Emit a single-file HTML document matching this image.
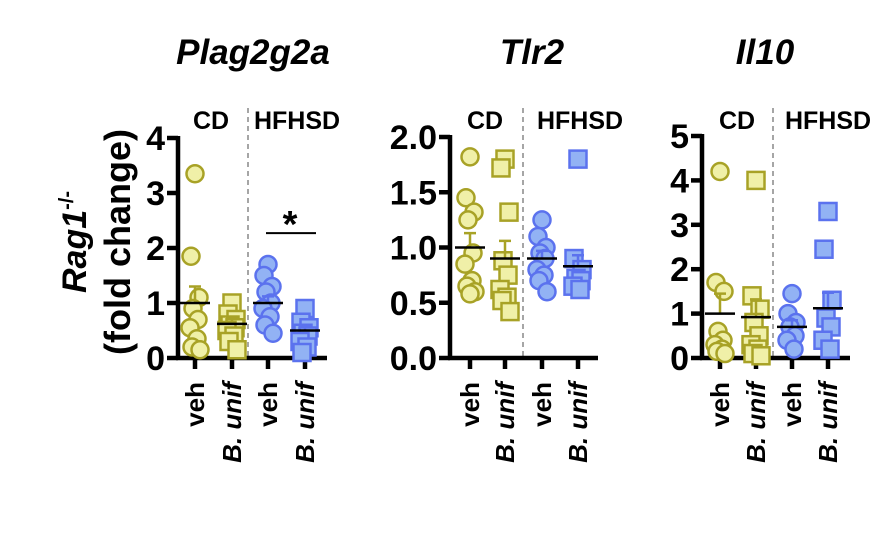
<!DOCTYPE html>
<html><head><meta charset="utf-8"><style>
html,body{margin:0;padding:0;background:#fff}
svg{display:block;font-family:"Liberation Sans",Arial,sans-serif}
</style></head><body>
<svg id="chart" width="876" height="540" viewBox="0 0 876 540" xmlns="http://www.w3.org/2000/svg">
<g font-weight="bold" text-anchor="middle">
<text transform="translate(86,242) rotate(-90)" font-style="italic" font-size="34">Rag1<tspan font-size="20" dy="-13" font-style="normal">-/-</tspan></text>
<text transform="translate(130,242) rotate(-90)" font-size="36">(fold change)</text>
</g>
</svg>
<script>
const panelTitles = ["Plag2g2a","Tlr2","Il10"];
const yMaxes = [4, 2, 5];
const yTicks = [["0","1","2","3","4"],["0.0","0.5","1.0","1.5","2.0"],["0","1","2","3","4","5"]];
const groupLabels = ["veh","B. unif","veh","B. unif"];
const dietLabels = ["CD","HFHSD"];
// Plag2g2a
const p1CdVeh = [3.35,1.85,1.1,0.9,0.7,0.55,0.35,0.2,0.15];
const p1CdBu = [1.0,0.8,0.7,0.6,0.55,0.5,0.4,0.3,0.15];
const p1HfVeh = [1.7,1.5,1.3,1.2,1.0,0.9,0.75,0.6,0.45];
const p1HfBu = [0.9,0.65,0.55,0.45,0.4,0.3,0.2,0.1];
const p1Means = [1.0,0.62,1.0,0.5];
const p1Sems = [0.3,0.1,0.12,0.08];
// Tlr2
const p2CdVeh = [1.82,1.45,1.32,1.25,0.95,0.85,0.7,0.65,0.6,0.58];
const p2CdBu = [1.8,1.72,1.32,0.88,0.75,0.62,0.55,0.52,0.42];
const p2HfVeh = [1.25,1.1,1.0,0.95,0.9,0.8,0.75,0.7,0.6];
const p2HfBu = [1.8,0.9,0.8,0.72,0.7,0.65,0.62];
const p2Means = [1.0,0.9,0.9,0.83];
const p2Sems = [0.13,0.16,0.07,0.1];
// Il10
const p3CdVeh = [4.2,1.7,1.5,0.6,0.4,0.3,0.2,0.15,0.1];
const p3CdBu = [4.0,1.4,1.1,0.8,0.5,0.3,0.2,0.1,0.05];
const p3HfVeh = [1.45,1.0,0.8,0.7,0.5,0.4,0.2];
const p3HfBu = [3.3,2.45,1.3,0.9,0.7,0.4,0.2];
const p3Means = [1.0,0.92,0.7,1.12];
const p3Sems = [0.45,0.4,0.15,0.35];
const sigValue = 2.27;

const panelData = [[p1CdVeh,p1CdBu,p1HfVeh,p1HfBu],[p2CdVeh,p2CdBu,p2HfVeh,p2HfBu],[p3CdVeh,p3CdBu,p3HfVeh,p3HfBu]];
const panelMeans = [p1Means,p2Means,p3Means];
const panelSems = [p1Sems,p2Sems,p3Sems];
const layout = [
 {ax:178, top:138, end:327, gx:[195,232,268,305], dash:248, tx:253, cd:211, hf:297},
 {ax:450, top:137, end:598, gx:[470,505,542,578], dash:523, tx:532, cd:485, hf:580},
 {ax:702, top:136, end:850, gx:[720,756,792,828], dash:773, tx:765, cd:737, hf:828}
];
const base = 358;
const NS="http://www.w3.org/2000/svg";
const svg=document.getElementById('chart');
function mk(tag, attrs, parent){const e=document.createElementNS(NS,tag);for(const k in attrs)e.setAttribute(k,attrs[k]);(parent||svg).appendChild(e);return e;}
const jit=[0,-4,4,-2,3,-5,2,-3,5,0];
const colors=[{f:"#f0f0a8",s:"#a8a226"},{f:"#f0f0a8",s:"#a8a226"},{f:"#92b2f4",s:"#5b72ee"},{f:"#92b2f4",s:"#5b72ee"}];

panelData.forEach((groups,p)=>{
 const L=layout[p], ymax=yMaxes[p];
 const y=v=>base-(v/ymax)*(base-L.top);
 const g=mk('g',{});
 
 
 const t=mk('text',{x:L.tx,y:64,'text-anchor':'middle','font-size':35,'font-weight':'bold','font-style':'italic'},g);
 t.textContent=panelTitles[p];
 
 
 const d=mk('line',{x1:L.dash,x2:L.dash,y1:108,y2:base,stroke:'#888','stroke-width':1.5,'stroke-dasharray':'5,4'},g);
 
 
 [L.cd,L.hf].forEach((cx,i)=>{const dl=mk('text',{x:cx,y:129,'text-anchor':'middle','font-size':25,'font-weight':'bold'},g);dl.textContent=dietLabels[i];
  
  });
 const ya=mk('line',{x1:L.ax,x2:L.ax,y1:L.top-2,y2:base+2,stroke:'#000','stroke-width':4.5},g);
 
 
 const xa=mk('line',{x1:L.ax-2,x2:L.end,y1:base,y2:base,stroke:'#000','stroke-width':4.5},g);
 
 
 yTicks[p].forEach((lab,i)=>{
  const v=i*ymax/(yTicks[p].length-1);
  mk('line',{x1:L.ax-11,x2:L.ax,y1:y(v),y2:y(v),stroke:'#000','stroke-width':4.5},g);
  const tl=mk('text',{x:L.ax-13,y:y(v)+12,'text-anchor':'end','font-size':34,'font-weight':'bold'},g);
  tl.textContent=lab;
  
  
 });
 groups.forEach((vals,gi)=>{
  const cx=L.gx[gi], c=colors[gi];
  mk('line',{x1:cx,x2:cx,y1:base,y2:base+11,stroke:'#000','stroke-width':4.5},g);
  const xl=mk('text',{transform:`translate(${cx+9},382) rotate(-90)`,'text-anchor':'end','font-size':26,'font-weight':'bold','font-style':gi%2?'italic':'normal'},g);
  xl.textContent=groupLabels[gi];
  
  
  vals.forEach((v,i)=>{
   let m;
   if(gi%2===0) m=mk('circle',{cx:cx+jit[i%10],cy:y(v),r:8.5,fill:c.f,stroke:c.s,'stroke-width':2.5},g);
   else m=mk('rect',{x:cx+jit[i%10]-8.5,y:y(v)-8.5,width:17,height:17,fill:c.f,stroke:c.s,'stroke-width':2.5},g);
   
   
  });
  const mn=panelMeans[p][gi], se=panelSems[p][gi];
  const eb=mk('path',{d:`M${cx},${y(mn)}V${y(mn+se)}M${cx-6},${y(mn+se)}H${cx+6}`,stroke:c.s,'stroke-width':2.5,fill:'none'},g);
  
  
  const ml=mk('line',{x1:cx-15,x2:cx+15,y1:y(mn),y2:y(mn),stroke:'#000','stroke-width':2.5},g);
  
  
 });
 if(p===0){
  const sb=mk('line',{x1:266,x2:316,y1:y(sigValue),y2:y(sigValue),stroke:'#000','stroke-width':2},g);
  
  
  const st=mk('text',{x:290,y:y(sigValue)+4,'text-anchor':'middle','font-size':38,'font-weight':'bold'},g);
  st.textContent='*';
  
  
 }
});
</script>
</body></html>
